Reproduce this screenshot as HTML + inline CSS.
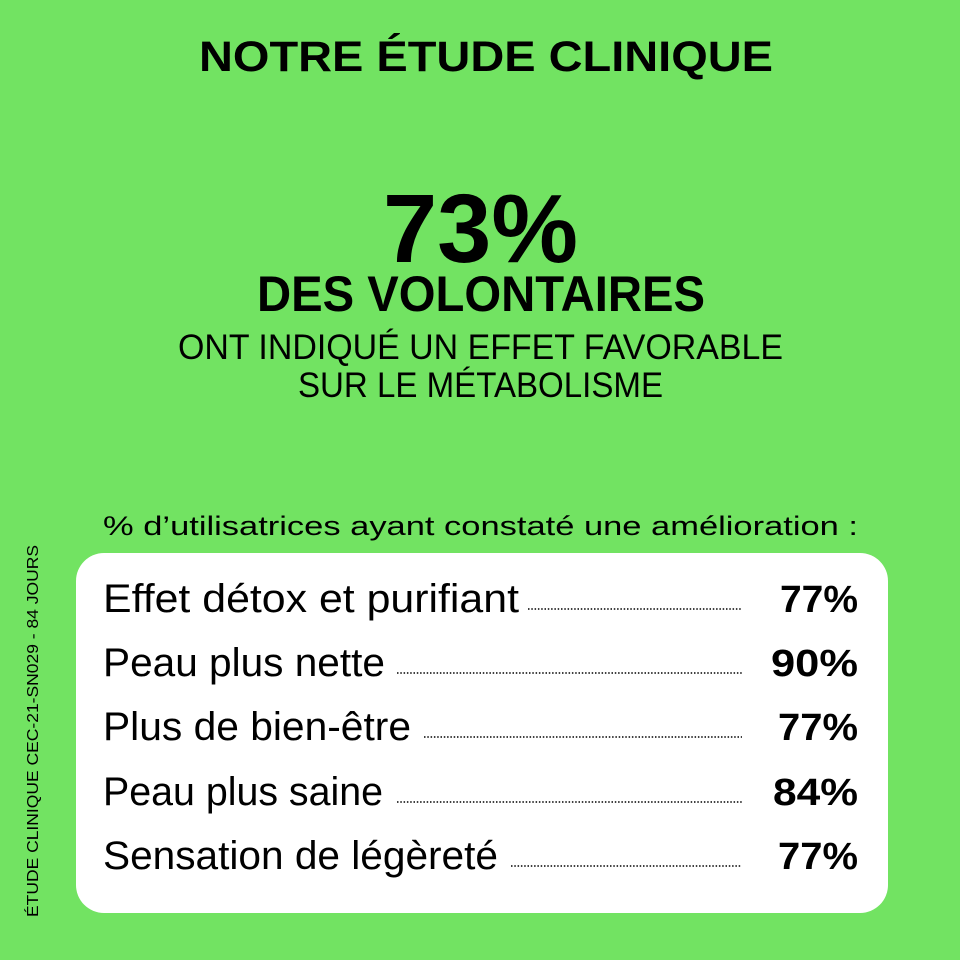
<!DOCTYPE html>
<html><head><meta charset="utf-8"><style>
html,body{margin:0;padding:0;background:#72E362;}
svg{display:block}
text{font-family:"Liberation Sans",sans-serif;fill:#000}
.b{font-weight:bold}
</style></head><body>
<svg width="960" height="960" viewBox="0 0 960 960">
<rect width="960" height="960" fill="#72E362"/>
<text class="b" x="199" y="71" font-size="43" textLength="574" lengthAdjust="spacingAndGlyphs">NOTRE ÉTUDE CLINIQUE</text>
<text class="b" x="383" y="262" font-size="97" textLength="195" lengthAdjust="spacingAndGlyphs">73%</text>
<text class="b" x="257" y="311" font-size="50" textLength="448" lengthAdjust="spacingAndGlyphs">DES VOLONTAIRES</text>
<text x="178" y="359" font-size="35" textLength="605" lengthAdjust="spacingAndGlyphs">ONT INDIQUÉ UN EFFET FAVORABLE</text>
<text x="298" y="397" font-size="35" textLength="365" lengthAdjust="spacingAndGlyphs">SUR LE MÉTABOLISME</text>
<text x="103" y="535" font-size="27" textLength="755" lengthAdjust="spacingAndGlyphs">% d’utilisatrices ayant constaté une amélioration :</text>
<rect x="76" y="553" width="812" height="360" rx="28" fill="#fff"/>
<g font-size="40">
<text x="103" y="612" textLength="416" lengthAdjust="spacingAndGlyphs">Effet détox et purifiant</text>
<text x="103" y="676" textLength="282" lengthAdjust="spacingAndGlyphs">Peau plus nette</text>
<text x="103" y="740" textLength="308" lengthAdjust="spacingAndGlyphs">Plus de bien-être</text>
<text x="103" y="805" textLength="280" lengthAdjust="spacingAndGlyphs">Peau plus saine</text>
<text x="103" y="869" textLength="395" lengthAdjust="spacingAndGlyphs">Sensation de légèreté</text>
</g>
<g stroke="#000" stroke-width="1.5" stroke-dasharray="1.5 1.8">
<line x1="528" y1="609" x2="742" y2="609"/>
<line x1="397" y1="673" x2="742" y2="673"/>
<line x1="424" y1="737" x2="742" y2="737"/>
<line x1="397" y1="802" x2="742" y2="802"/>
<line x1="511" y1="866" x2="742" y2="866"/>
</g>
<g class="b" font-size="38" font-weight="bold">
<text x="780" y="612" textLength="78" lengthAdjust="spacingAndGlyphs">77%</text>
<text x="771" y="676" textLength="87" lengthAdjust="spacingAndGlyphs">90%</text>
<text x="778" y="740" textLength="80" lengthAdjust="spacingAndGlyphs">77%</text>
<text x="773" y="805" textLength="85" lengthAdjust="spacingAndGlyphs">84%</text>
<text x="778" y="869" textLength="80" lengthAdjust="spacingAndGlyphs">77%</text>
</g>
<text transform="translate(38,917) rotate(-90)" font-size="16" textLength="372" lengthAdjust="spacingAndGlyphs">ÉTUDE CLINIQUE CEC-21-SN029 - 84 JOURS</text>
</svg>
</body></html>
